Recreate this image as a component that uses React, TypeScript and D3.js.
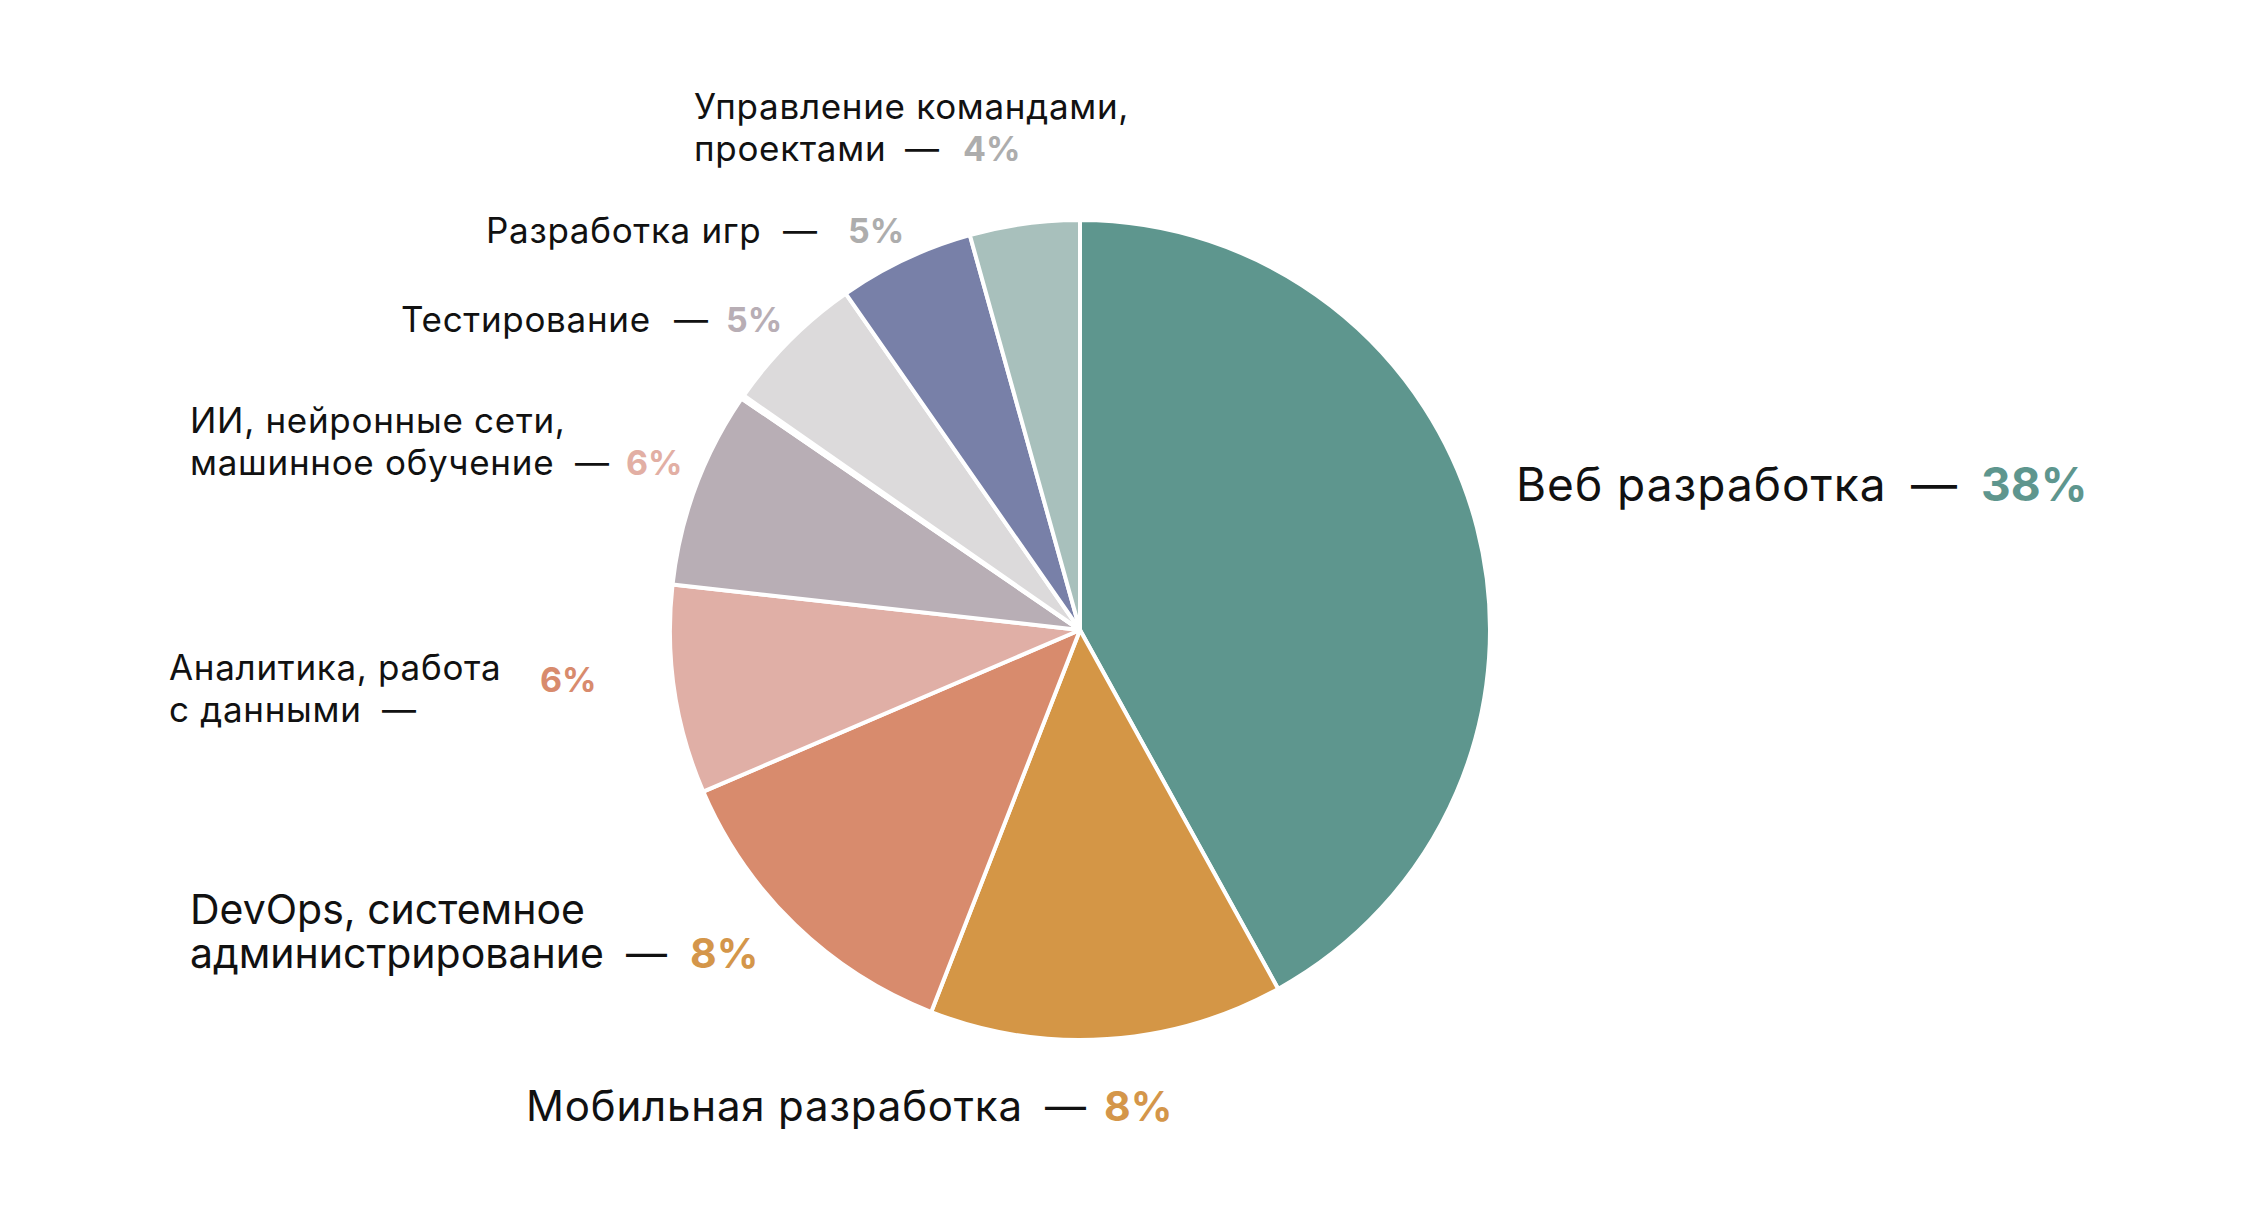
import React from "react";
import * as d3 from "d3";

// ---- data ----
const categories = [
  "Веб разработка",
  "Мобильная разработка",
  "DevOps, системное администрирование",
  "Аналитика, работа с данными",
  "ИИ, нейронные сети, машинное обучение",
  "Тестирование",
  "Разработка игр",
  "Управление командами, проектами",
];
// share of the drawn pie (percent of full circle)
const sliceShares = [41.97, 13.94, 12.64, 8.22, 7.78, 5.63, 5.35, 4.33];
// small blank wedge visible between AI and Testing
const gapShare = 0.14;
const gapAfterIndex = 4;
const percentLabels = ["38%", "8%", "8%", "6%", "6%", "5%", "5%", "4%"];
const sliceColors = ["#5E968E", "#D49646", "#D88B6D", "#E0AFA6", "#B8AEB5", "#DCDADB", "#7880A8", "#A8C0BC"];
const percentColors = ["#5E968E", "#D4964A", "#D4964A", "#D88B6D", "#E2AFA4", "#B8AEB5", "#ADADAD", "#ADADAD"];

// ---- layout (positions/sizes only) ----
const labelLines = [
  ["Веб разработка"],
  ["Мобильная разработка"],
  ["DevOps, системное", "администрирование"],
  ["Аналитика, работа", "с данными"],
  ["ИИ, нейронные сети,", "машинное обучение"],
  ["Тестирование"],
  ["Разработка игр"],
  ["Управление командами,", "проектами"],
];
const labelLayout = [
  { x: 1516, y: 501, lh: 0, fs: 46, ls: 1, pfs: 46, dashX: 1911, dashY: 501, pctX: 1981, pctY: 501 },
  { x: 526, y: 1121, lh: 0, fs: 42, ls: 0.8, pfs: 41, dashX: 1045, dashY: 1121, pctX: 1104, pctY: 1121 },
  { x: 190, y: 924, lh: 44, fs: 41, ls: 0, pfs: 41, dashX: 626, dashY: 968, pctX: 690, pctY: 968 },
  { x: 169, y: 680, lh: 42, fs: 35, ls: 0.7, pfs: 34, dashX: 382, dashY: 722, pctX: 540, pctY: 692 },
  { x: 190, y: 433, lh: 42, fs: 35, ls: 0.7, pfs: 34, dashX: 575, dashY: 475, pctX: 626, pctY: 475 },
  { x: 401, y: 332, lh: 0, fs: 35, ls: 0.7, pfs: 34, dashX: 674, dashY: 332, pctX: 726, pctY: 332 },
  { x: 486, y: 243, lh: 0, fs: 35, ls: 0.7, pfs: 34, dashX: 783, dashY: 243, pctX: 848, pctY: 243 },
  { x: 694, y: 119, lh: 42, fs: 35, ls: 0.7, pfs: 34, dashX: 905, dashY: 161, pctX: 963, pctY: 161 },
];

const W = 2253;
const H = 1212;
const CX = 1080;
const CY = 630;
const R = 410;
const FONT = "Inter, 'Noto Sans', sans-serif";

type Slice = { name: string; value: number; color: string };

export default function App() {
  const input: Slice[] = [];
  categories.forEach((c, i) => {
    input.push({ name: c, value: sliceShares[i], color: sliceColors[i] });
    if (i === gapAfterIndex) input.push({ name: "", value: gapShare, color: "#FFFFFF" });
  });
  const pie = d3
    .pie<Slice>()
    .sort(null)
    .value((d) => d.value)
    .startAngle(0)
    .endAngle(2 * Math.PI);
  const arcs = pie(input);
  const arc = d3.arc<d3.PieArcDatum<Slice>>().innerRadius(0).outerRadius(R);

  return (
    <svg
      width={W}
      height={H}
      viewBox={`0 0 ${W} ${H}`}
      style={{ position: "absolute", left: 0, top: 0, display: "block", background: "#fff" }}
    >
      <rect x={0} y={0} width={W} height={H} fill="#fff" />
      <g transform={`translate(${CX},${CY})`}>
        {arcs.map((a, i) => (
          <path
            key={i}
            d={arc(a) || ""}
            fill={a.data.color}
            stroke="#fff"
            strokeWidth={4}
            strokeLinejoin="round"
          />
        ))}
      </g>
      <g fontFamily={FONT} fill="#111">
        {categories.map((c, i) => {
          const L = labelLayout[i];
          return (
            <g key={c}>
              <text fontSize={L.fs} letterSpacing={L.ls} fill="#111">
                {labelLines[i].map((line, j) => (
                  <tspan key={j} x={L.x} y={L.y + j * L.lh}>
                    {line}
                  </tspan>
                ))}
              </text>
              <text x={L.dashX} y={L.dashY} fontSize={L.pfs} fill="#111">
                —
              </text>
              <text x={L.pctX} y={L.pctY} fontSize={L.pfs} fontWeight={700} fill={percentColors[i]}>
                {percentLabels[i]}
              </text>
            </g>
          );
        })}
      </g>
    </svg>
  );
}
